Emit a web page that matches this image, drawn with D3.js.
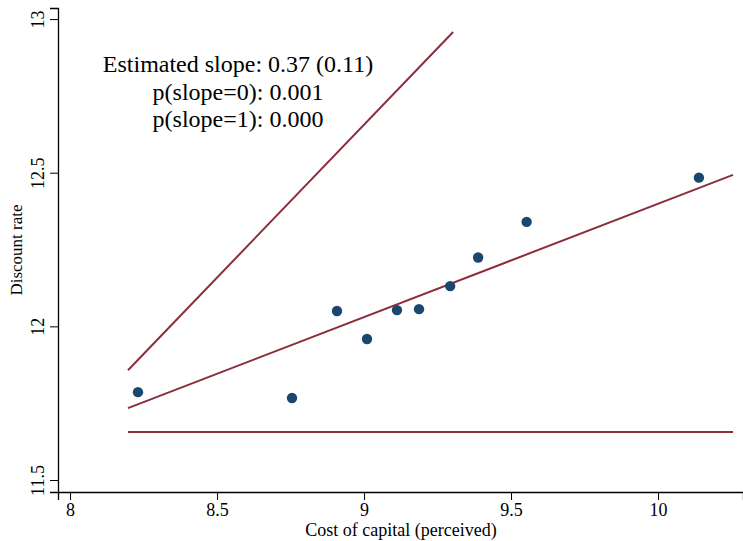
<!DOCTYPE html>
<html>
<head>
<meta charset="utf-8">
<script src="https://cdn.jsdelivr.net/npm/d3@7"></script>
<style>
  body { margin: 0; background: #fff; }
  svg text { font-family: "Liberation Serif", "Times New Roman", serif; fill: #000; }
</style>
</head>
<body>
<svg width="743" height="541"></svg>
<script>
// points
var costCapital = [8.231, 8.755, 8.908, 9.010, 9.112, 9.187, 9.293, 9.388, 9.553, 10.139];
var discountRate = [11.786, 11.767, 12.050, 11.959, 12.053, 12.056, 12.131, 12.224, 12.340, 12.484];

// fitted line and the two reference lines (slope 1, slope 0)
var fitLine = [[8.197, 11.734], [10.255, 12.493]];
var slopeOneLine = [[8.197, 11.857], [9.303, 12.958]];
var slopeZeroLine = [[8.197, 11.656], [10.255, 11.656]];

var xTicks = [8, 8.5, 9, 9.5, 10];
var yTicks = [11.5, 12, 12.5, 13];
var notes = ["Estimated slope: 0.37 (0.11)", "p(slope=0): 0.001", "p(slope=1): 0.000"];

var serif = '"Liberation Serif", "Times New Roman", serif';
var svg = d3.select("svg");

var x = d3.scaleLinear().domain([7.959, 10.289]).range([58, 743]);
var y = d3.scaleLinear().domain([11.461, 13.036]).range([492, 8]);

var navy = "#1a476f", red = "#8c2d3b";

// axes
var xAxis = svg.append("g")
    .attr("transform", "translate(0,492)")
    .call(d3.axisBottom(x).tickValues(xTicks).tickFormat(d3.format("")).tickSize(8).tickPadding(3))
    .attr("font-family", serif).attr("font-size", 18);
var yAxis = svg.append("g")
    .attr("transform", "translate(58,0)")
    .call(d3.axisLeft(y).tickValues(yTicks).tickFormat(d3.format("")).tickSize(8))
    .attr("font-family", serif).attr("font-size", 18);

svg.selectAll(".domain").attr("stroke", "#000").attr("stroke-width", 1.3);
svg.selectAll(".tick line").attr("stroke", "#000").attr("stroke-width", 1);
xAxis.selectAll(".tick text").attr("dy", "0.7em");
// y labels are turned on their side, baseline toward the axis
yAxis.selectAll(".tick text")
    .attr("text-anchor", "middle")
    .attr("x", 0).attr("y", 0).attr("dy", 0)
    .attr("transform", "translate(-14,0) rotate(-90)");

svg.append("text")
    .attr("x", 401).attr("y", 536)
    .attr("text-anchor", "middle")
    .style("font-size", "18px")
    .text("Cost of capital (perceived)");

svg.append("text")
    .attr("transform", "translate(22,250) rotate(-90)")
    .attr("text-anchor", "middle")
    .style("font-size", "17px")
    .text("Discount rate");

// lines
var line = d3.line().x(function(d) { return x(d[0]); }).y(function(d) { return y(d[1]); });
[slopeOneLine, fitLine, slopeZeroLine].forEach(function(l) {
    svg.append("path")
        .attr("d", line(l))
        .attr("fill", "none")
        .attr("stroke", red)
        .attr("stroke-width", 2);
});

// points
svg.append("g").selectAll("circle")
    .data(costCapital)
    .enter().append("circle")
    .attr("cx", function(d) { return x(d); })
    .attr("cy", function(d, i) { return y(discountRate[i]); })
    .attr("r", 5.2)
    .attr("fill", navy);

// annotation
svg.append("g").selectAll("text")
    .data(notes)
    .enter().append("text")
    .attr("x", 238)
    .attr("y", function(d, i) { return 72 + i * 27.5; })
    .attr("text-anchor", "middle")
    .style("font-size", "24px")
    .text(function(d) { return d; });
</script>
</body>
</html>
